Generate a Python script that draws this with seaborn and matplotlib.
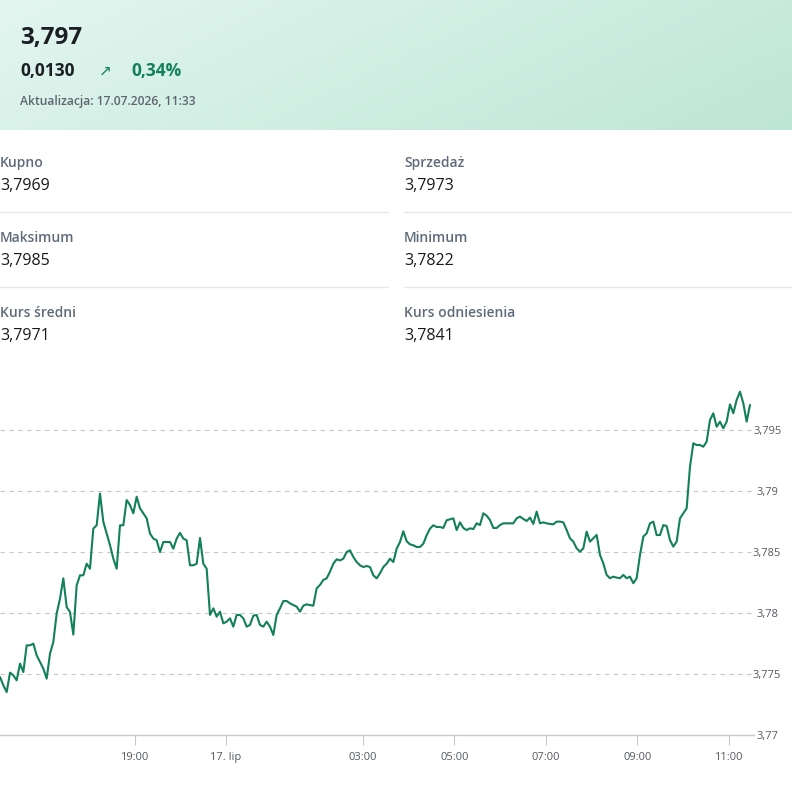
import numpy as np
import pandas as pd
import matplotlib.pyplot as plt
import seaborn as sns

sns.set_theme(style='white')
plt.rcParams['font.family'] = ['Open Sans', 'DejaVu Sans']

# kurs z ostatnich godzin (oś porządkowa: godziny, noc skompresowana)
rate = [
    3.77475, 3.77407, 3.77352, 3.77511, 3.77489, 3.77448, 3.77585, 3.77516, 3.77735, 3.77735,
    3.77749, 3.77653, 3.77598, 3.77544, 3.77462, 3.77667, 3.77762, 3.77995, 3.78118, 3.78284,
    3.78049, 3.78008, 3.77823, 3.78227, 3.78309, 3.78309, 3.78404, 3.78363, 3.78692, 3.78719,
    3.78979, 3.78747, 3.78651, 3.78556, 3.78445, 3.78363, 3.78719, 3.78719, 3.78926, 3.78885,
    3.78817, 3.78953, 3.78858, 3.78817, 3.78776, 3.78651, 3.78610, 3.78596, 3.78500, 3.78582,
    3.78582, 3.78582, 3.78527, 3.78610, 3.78657, 3.78610, 3.78596, 3.78391, 3.78391, 3.78404,
    3.78615, 3.78404, 3.78363, 3.77984, 3.78038, 3.77970, 3.78011, 3.77915, 3.77929, 3.77956,
    3.77888, 3.77984, 3.77984, 3.77956, 3.77888, 3.77902, 3.77978, 3.77984, 3.77902, 3.77888,
    3.77929, 3.77888, 3.77820, 3.77984, 3.78038, 3.78098, 3.78098, 3.78079, 3.78065, 3.78052,
    3.78011, 3.78060, 3.78071, 3.78065, 3.78060, 3.78202, 3.78230, 3.78271, 3.78284, 3.78339,
    3.78404, 3.78440, 3.78431, 3.78445, 3.78500, 3.78514, 3.78459, 3.78418, 3.78391, 3.78377,
    3.78385, 3.78377, 3.78309, 3.78284, 3.78325, 3.78377, 3.78404, 3.78445, 3.78418, 3.78527,
    3.78582, 3.78670, 3.78588, 3.78563, 3.78555, 3.78541, 3.78541, 3.78568, 3.78637, 3.78692,
    3.78719, 3.78705, 3.78705, 3.78697, 3.78760, 3.78768, 3.78776, 3.78680, 3.78743, 3.78697,
    3.78680, 3.78694, 3.78688, 3.78735, 3.78721, 3.78817, 3.78798, 3.78762, 3.78697, 3.78697,
    3.78721, 3.78735, 3.78735, 3.78735, 3.78735, 3.78776, 3.78790, 3.78771, 3.78754, 3.78782,
    3.78730, 3.78831, 3.78735, 3.78743, 3.78735, 3.78730, 3.78727, 3.78749, 3.78749, 3.78743,
    3.78680, 3.78612, 3.78585, 3.78530, 3.78503, 3.78530, 3.78667, 3.78585, 3.78612, 3.78640,
    3.78476, 3.78407, 3.78312, 3.78285, 3.78298, 3.78290, 3.78285, 3.78312, 3.78285, 3.78298,
    3.78244, 3.78285, 3.78476, 3.78626, 3.78653, 3.78735, 3.78749, 3.78639, 3.78639, 3.78721,
    3.78713, 3.78598, 3.78544, 3.78585, 3.78776, 3.78817, 3.78858, 3.79199, 3.79391, 3.79377,
    3.79377, 3.79363, 3.79404, 3.79582, 3.79637, 3.79527, 3.79568, 3.79514, 3.79568, 3.79710,
    3.79637, 3.79746, 3.79814, 3.79719, 3.79568, 3.79705,
]
hour_start, hour_end = -4.945, 11.466

tick_hours = [-2, 0, 3, 5, 7, 9, 11]
tick_labels = ['19:00', '17. lip', '03:00', '05:00', '07:00', '09:00', '11:00']
y_ticks = [3.77, 3.775, 3.78, 3.785, 3.79, 3.795]
y_labels = ['3,77', '3,775', '3,78', '3,785', '3,79', '3,795']

stat_names = ['Kupno', 'Sprzedaż', 'Maksimum', 'Minimum', 'Kurs średni', 'Kurs odniesienia']
stat_values = ['3,7969', '3,7973', '3,7985', '3,7822', '3,7971', '3,7841']

df = pd.DataFrame({'godz': np.linspace(hour_start, hour_end, len(rate)), 'kurs': rate})

W, H = 792, 790
fig = plt.figure(figsize=(W / 100, H / 100), dpi=100)
fig.patch.set_facecolor('white')


def txt(x, y, s, **kw):
    fig.text(x / W, 1 - y / H, s, va='center', **kw)


# naglowek z gradientem
hdr = fig.add_axes([0, 1 - 130 / H, 1, 130 / H])
gx, gy = np.meshgrid(np.linspace(0, 1, 200), np.linspace(0, 1, 40))
t = np.clip(0.75 * gx + 0.25 * gy, 0, 1)[..., None]
c0 = np.array([227, 246, 240]) / 255
c1 = np.array([190, 230, 214]) / 255
hdr.imshow(c0 + (c1 - c0) * t, aspect='auto', extent=[0, 1, 0, 1])
hdr.axis('off')

txt(20, 38, '3,797', fontsize=17.5, fontweight='bold', color='#1b1f23')
txt(20, 71, '0,0130', fontsize=12.5, fontweight='bold', color='#1b1f23')
txt(99, 71, '↗', fontsize=11, color='#12805a', family=['DejaVu Sans'])
txt(131, 71, '0,34%', fontsize=12.5, fontweight='bold', color='#12805a')
txt(20, 102, 'Aktualizacja: 17.07.2026, 11:33', fontsize=8.7, fontweight='semibold', color='#5f6670')

# statystyki
for i, (name, val) in enumerate(zip(stat_names, stat_values)):
    col, row = i % 2, i // 2
    x = 0 if col == 0 else 404
    y0 = 163 + row * 75
    txt(x, y0, name, fontsize=10, fontweight='semibold', color='#5f6b7a')
    txt(x, y0 + 23, val, fontsize=11.5, color='#1a1a1a')
for ys in [212, 287]:
    fig.add_artist(plt.Line2D([0, 388 / W], [1 - ys / H] * 2, color='#e6e8eb', lw=1))
    fig.add_artist(plt.Line2D([404 / W, 1], [1 - ys / H] * 2, color='#e6e8eb', lw=1))

# wykres
ax = fig.add_axes([0, (H - 735) / H, 754 / W, 365 / H])
sns.lineplot(data=df, x='godz', y='kurs', ax=ax, color='#12805a', lw=1.5)
ax.set_xlim(hour_start, hour_start + 754 / 45.7)
ax.set_ylim(3.77, 3.77 + 365 / 12200)
ax.set_xlabel('')
ax.set_ylabel('')
for s in ['top', 'left', 'right']:
    ax.spines[s].set_visible(False)
ax.spines['bottom'].set_color('#c3c9d1')
ax.spines['bottom'].set_linewidth(1)
for yv in y_ticks[1:]:
    ax.axhline(yv, color='#c8c8c8', lw=0.8, ls=(0, (4, 4)), zorder=0)

ax.set_xticks(tick_hours)
ax.set_xticklabels(tick_labels)
ax.yaxis.tick_right()
ax.set_yticks(y_ticks)
ax.set_yticklabels(y_labels, ha='center')
ax.tick_params(axis='y', length=0, pad=9.5, labelsize=8, labelcolor='#555a60')
ax.tick_params(axis='x', length=7, width=0.8, color='#c3c9d1', pad=5, labelsize=8,
               labelcolor='#555a60', bottom=True)
ax.grid(False)
ax.patch.set_alpha(0)

fig.savefig('out.png', dpi=100)
